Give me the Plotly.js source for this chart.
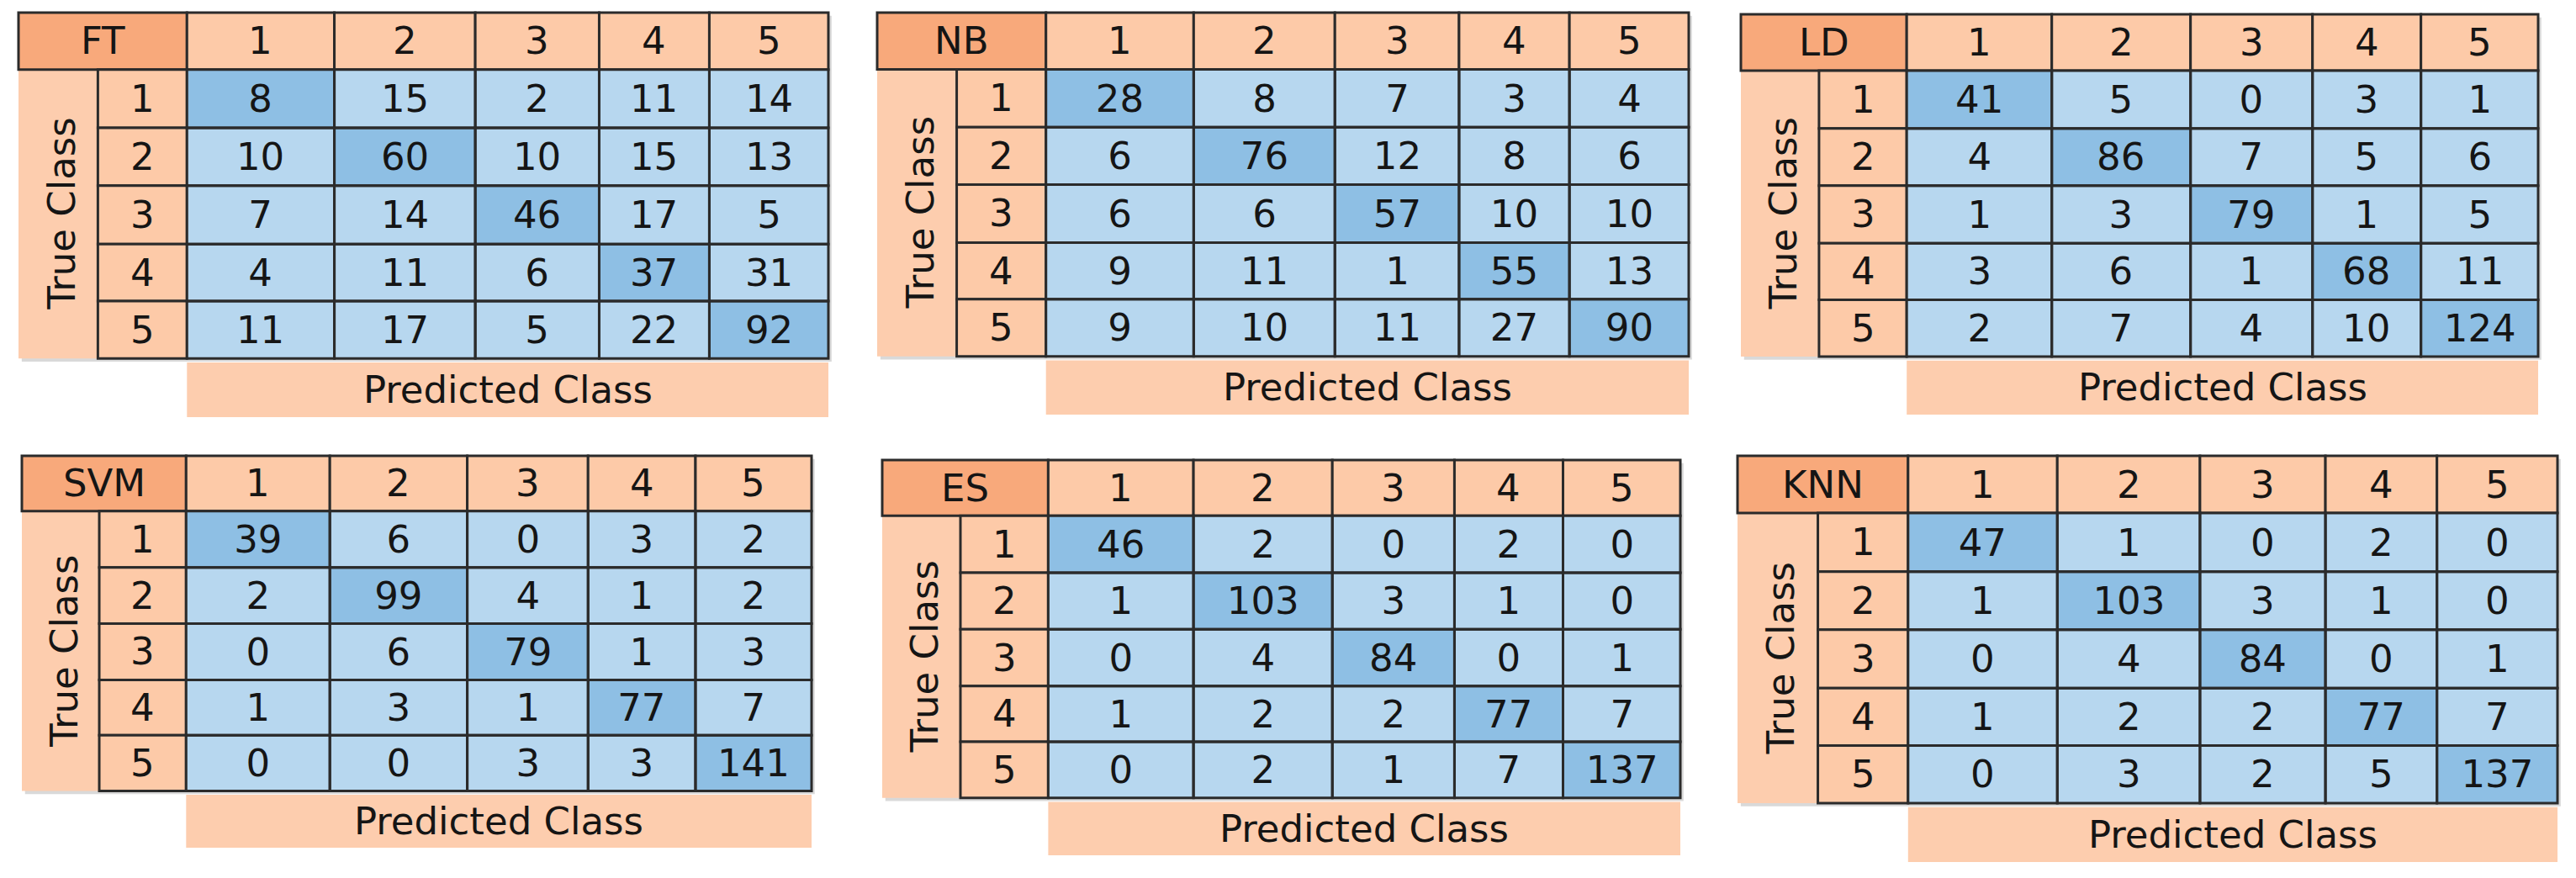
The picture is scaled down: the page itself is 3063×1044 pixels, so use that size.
<!DOCTYPE html>
<html>
<head>
<meta charset="utf-8">
<script src="https://cdn.plot.ly/plotly-3.0.1.min.js"></script>
<style>
html, body { margin: 0; padding: 0; background: #fff; }
#chart { width: 3063px; height: 1044px; }
</style>
</head>
<body>
<div id="chart"></div>
<script>
// six confusion matrices, rows = true class, columns = predicted class

var modelNames = ['FT', 'NB', 'LD', 'SVM', 'ES', 'KNN'];
var classLabels = ['1', '2', '3', '4', '5'];

var ftMatrix  = [[8, 15, 2, 11, 14], [10, 60, 10, 15, 13], [7, 14, 46, 17, 5], [4, 11, 6, 37, 31], [11, 17, 5, 22, 92]];
var nbMatrix  = [[28, 8, 7, 3, 4], [6, 76, 12, 8, 6], [6, 6, 57, 10, 10], [9, 11, 1, 55, 13], [9, 10, 11, 27, 90]];
var ldMatrix  = [[41, 5, 0, 3, 1], [4, 86, 7, 5, 6], [1, 3, 79, 1, 5], [3, 6, 1, 68, 11], [2, 7, 4, 10, 124]];
var svmMatrix = [[39, 6, 0, 3, 2], [2, 99, 4, 1, 2], [0, 6, 79, 1, 3], [1, 3, 1, 77, 7], [0, 0, 3, 3, 141]];
var esMatrix  = [[46, 2, 0, 2, 0], [1, 103, 3, 1, 0], [0, 4, 84, 0, 1], [1, 2, 2, 77, 7], [0, 2, 1, 7, 137]];
var knnMatrix = [[47, 1, 0, 2, 0], [1, 103, 3, 1, 0], [0, 4, 84, 0, 1], [1, 2, 2, 77, 7], [0, 3, 2, 5, 137]];

var matrices = [ftMatrix, nbMatrix, ldMatrix, svmMatrix, esMatrix, knnMatrix];

var trueTitle = 'True Class';
var predTitle = 'Predicted Class';

// --- layout below here ---
// one panel in units of 1/1000 of its box (x to the right, y downward)
var colEdges = [208, 390, 564, 717, 853, 1000];
var rowEdges = [141, 285, 428, 572, 713, 855];
var labelLeft = 98;
var predTop = 865;

// panel boxes in page px: left, top, right, bottom
var panelBoxes = [
  [22, 15, 985, 496],
  [1043, 15, 2008, 493],
  [2070, 17, 3018, 493],
  [26, 542, 965, 1008],
  [1049, 547, 1998, 1017],
  [2066, 542, 3041, 1025]
];

var W = 3063, H = 1044;
var PAD = 14; // extra units around each panel so edge lines / shadow are not clipped

var lineCol = '#2b2b2b';
var peach = '#fdcaa8';
var band = '#fdcdae';
var titleFill = '#f8a97b';
var fontFam = '"DejaVu Sans", Lato, sans-serif';
var txtCol = '#151515';
var fsize = 45;

var data = [];
var shapes = [];
var annotations = [];
var layout = {
  width: W, height: H,
  margin: {l: 0, r: 0, t: 0, b: 0},
  paper_bgcolor: '#fff',
  plot_bgcolor: 'rgba(0,0,0,0)',
  showlegend: false
};

function rect(xr, yr, x0, y0, x1, y1, fill, withLine, lay) {
  return {
    type: 'rect', xref: xr, yref: yr, x0: x0, y0: y0, x1: x1, y1: y1,
    fillcolor: fill, layer: lay || 'below',
    line: withLine ? {color: lineCol, width: 3} : {width: 0}
  };
}

function label(xr, yr, x, y, txt, angle) {
  return {
    xref: xr, yref: yr, x: x, y: y, text: txt, showarrow: false,
    textangle: angle || 0, xanchor: 'center', yanchor: 'middle',
    font: {family: fontFam, size: fsize, color: txtCol}
  };
}

for (var p = 0; p < matrices.length; p++) {
  var suf = p === 0 ? '' : String(p + 1);
  var xr = 'x' + suf, yr = 'y' + suf;
  var b = panelBoxes[p];
  var bw = b[2] - b[0], bh = b[3] - b[1];
  var padX = PAD * bw / 1000, padY = PAD * bh / 1000;

  layout['xaxis' + suf] = {
    domain: [(b[0] - padX) / W, (b[2] + padX) / W],
    range: [-PAD, 1000 + PAD], visible: false, fixedrange: true,
    anchor: yr
  };
  layout['yaxis' + suf] = {
    domain: [1 - (b[3] + padY) / H, 1 - (b[1] - padY) / H],
    range: [1000 + PAD, -PAD], visible: false, fixedrange: true,
    anchor: xr
  };

  var m = matrices[p];
  var diag = m.map(function (row, i) {
    return row.map(function (v, j) { return i === j ? 1 : 0; });
  });

  data.push({
    type: 'heatmap',
    xaxis: xr, yaxis: yr,
    x: colEdges, y: rowEdges,
    z: diag, text: m,
    texttemplate: '%{text}',
    textfont: {family: fontFam, size: fsize, color: txtCol},
    colorscale: [[0, '#b7d7ef'], [1, '#8ebfe4']],
    zmin: 0, zmax: 1,
    showscale: false, hoverinfo: 'skip'
  });

  // soft shadow right/below the table
  shapes.push(rect(xr, yr, 4, 8, 1004, rowEdges[5] + 8, 'rgba(130,130,130,0.3)', false));

  // bands
  shapes.push(rect(xr, yr, 0, rowEdges[0], labelLeft, rowEdges[5], band, false));
  shapes.push(rect(xr, yr, colEdges[0], predTop, colEdges[5], 1000, band, false));

  // header row
  shapes.push(rect(xr, yr, 0, 0, colEdges[0], rowEdges[0], titleFill, true));
  annotations.push(label(xr, yr, colEdges[0] / 2, rowEdges[0] / 2, modelNames[p]));
  for (var c = 0; c < classLabels.length; c++) {
    shapes.push(rect(xr, yr, colEdges[c], 0, colEdges[c + 1], rowEdges[0], peach, true));
    annotations.push(label(xr, yr, (colEdges[c] + colEdges[c + 1]) / 2, rowEdges[0] / 2, classLabels[c]));
  }

  // row labels and cell outlines
  for (var r = 0; r < classLabels.length; r++) {
    shapes.push(rect(xr, yr, labelLeft, rowEdges[r], colEdges[0], rowEdges[r + 1], peach, true));
    annotations.push(label(xr, yr, (labelLeft + colEdges[0]) / 2, (rowEdges[r] + rowEdges[r + 1]) / 2, classLabels[r]));
    for (var c2 = 0; c2 < classLabels.length; c2++) {
      shapes.push(rect(xr, yr, colEdges[c2], rowEdges[r], colEdges[c2 + 1], rowEdges[r + 1], 'rgba(0,0,0,0)', true, 'above'));
    }
  }

  annotations.push(label(xr, yr, labelLeft / 2 + 4, (rowEdges[0] + rowEdges[5]) / 2, trueTitle, -90));
  annotations.push(label(xr, yr, (colEdges[0] + colEdges[5]) / 2, (predTop + 1000) / 2, predTitle));
}

layout.shapes = shapes;
layout.annotations = annotations;

Plotly.newPlot('chart', data, layout, {displayModeBar: false, staticPlot: true});
</script>
</body>
</html>
